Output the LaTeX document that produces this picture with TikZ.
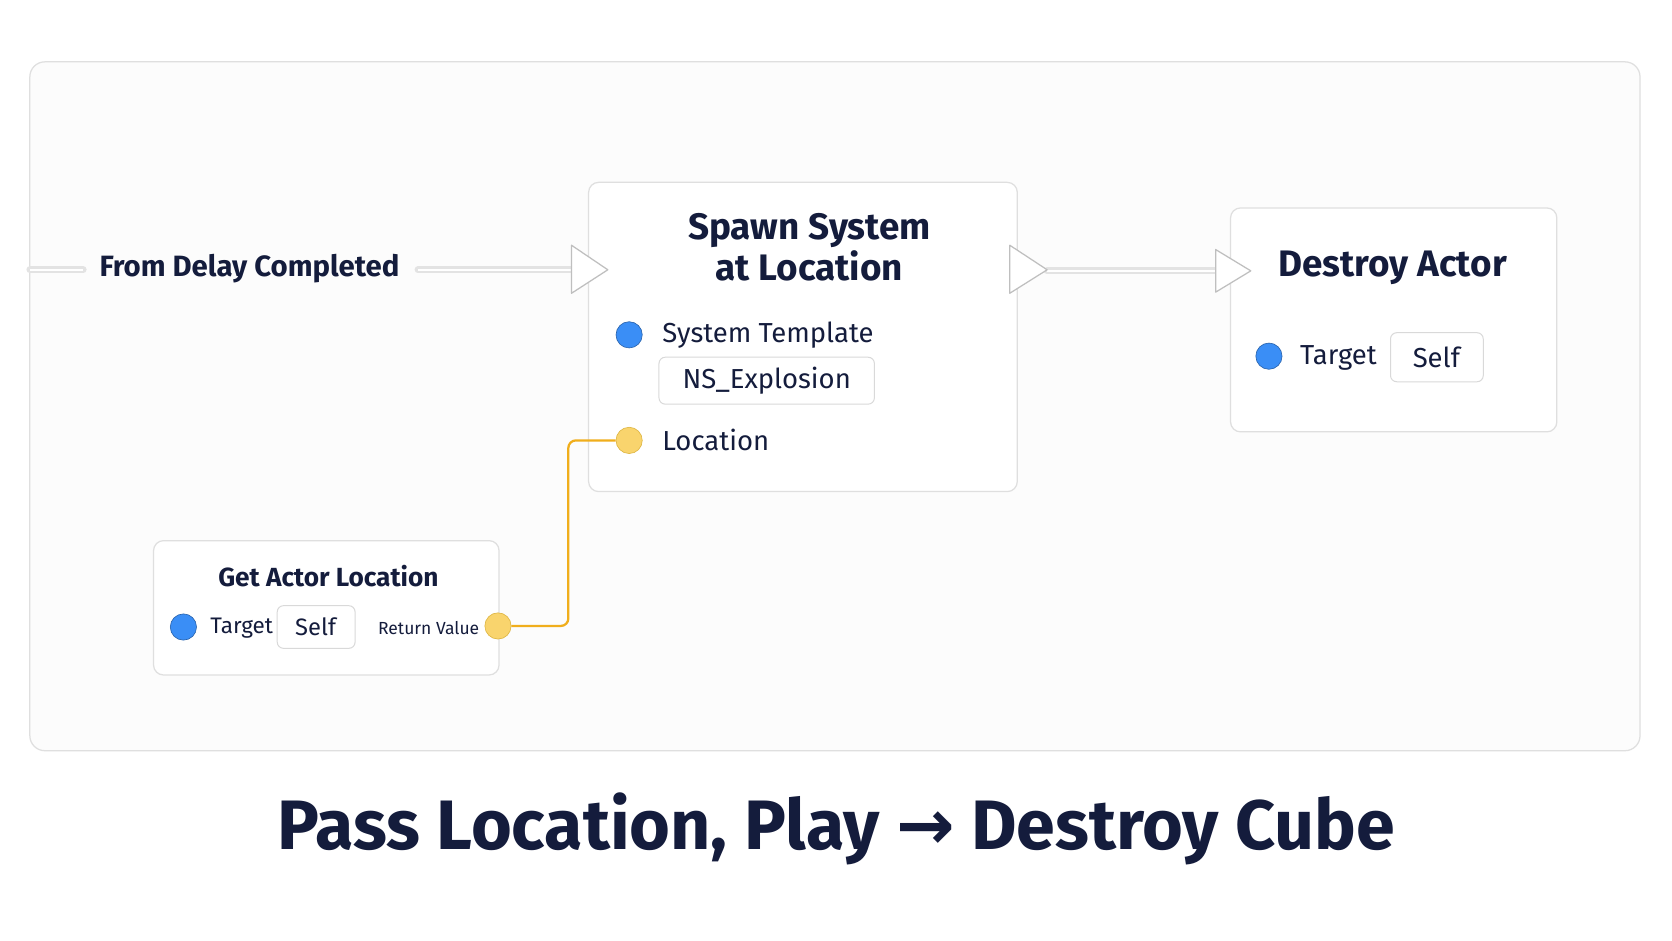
\documentclass[tikz,border=0pt]{standalone}
\usepackage{fontspec}
\setmainfont{Fira Sans}
\newfontfamily\arrowfont{DejaVu Sans}
\begin{document}
\begin{tikzpicture}[x=0.03cm,y=-0.03cm,
  txt/.style={text=navy,inner sep=0pt,font=\fontsize{22}{24}\selectfont},
  card/.style={draw=gray!25,line width=1pt,fill=white,rounded corners=8pt},
  box/.style={draw=gray!30,line width=0.8pt,fill=white,rounded corners=5pt},
  blue pin/.style={circle,minimum size=21pt,inner sep=0pt,fill=pinblue,draw=pinblue!70!black,line width=0.5pt},
  yel pin/.style={circle,minimum size=21pt,inner sep=0pt,fill=pinyel!80,draw=pinyel!90!black,line width=0.5pt},
  exec/.style={draw=gray!50,line width=1pt,fill=white,line join=round},
  wire/.style={line width=5.5pt,draw=gray!22,line cap=round},
  wirein/.style={line width=2pt,draw=white}]
\definecolor{navy}{HTML}{141C3C}
\definecolor{pinblue}{HTML}{3A8EF6}
\definecolor{pinyel}{HTML}{F7C948}
\definecolor{orangewire}{HTML}{F0AE1C}
\useasboundingbox (0,0) rectangle (1568,882);
\fill[white] (0,0) rectangle (1568,882);
\draw[draw=gray!25,line width=1pt,rounded corners=12pt,fill=gray!2] (28,58) rectangle (1538,704);
% nodes
\draw[card] (552,171) rectangle (954,461);
\draw[card] (1154,195) rectangle (1460,405);
\draw[card] (144,507) rectangle (468,633);
% titles
\node[txt,font=\fontsize{29.5}{33}\selectfont\bfseries,align=center] (spawnT) at (759,232) {Spawn System\\at Location};
\node[txt,font=\fontsize{29.5}{33}\selectfont\bfseries] (destT) at (1306,251) {Destroy Actor};
\node[txt,font=\fontsize{21}{24}\selectfont\bfseries] (getT) at (308,540) {Get Actor Location};
\node[txt,font=\fontsize{23.5}{26}\selectfont\bfseries] (from) at (234,252) {From Delay Completed};
% exec wires
\coordinate (w0) at (28,253);
\coordinate (w1) at (78,253);
\coordinate (w2) at (392,253);
\coordinate (w3) at (536,253);
\coordinate (w4) at (982,254);
\coordinate (w5) at (1140,254);
\draw[wire] (w0)--(w1); \draw[wirein] (w0)--(w1);
\draw[wire] (w2)--(w3); \draw[wirein] (w2)--(w3);
\draw[wire] (w4)--(w5); \draw[wirein] (w4)--(w5);
\draw[exec] (536,230)--(570,253)--(536,275)--cycle;
\draw[exec] (947,230)--(982,253)--(947,275)--cycle;
\draw[exec] (1140,234)--(1173,254)--(1140,274)--cycle;
% spawn pins
\node[blue pin] (st) at (590,314) {};
\node[txt,anchor=west] (stL) at (621,314) {System Template};
\draw[box] (618,335) rectangle (820,379);
\node[txt] (ns) at (719,357) {NS\_Explosion};
\node[yel pin] (loc) at (590,413) {};
\node[txt,anchor=west] (locL) at (621,413) {Location};
% destroy pins
\node[blue pin] (dt) at (1190,334) {};
\node[txt,anchor=west] (dtL) at (1219,336) {Target};
\draw[box] (1304,312) rectangle (1391,358);
\node[txt] (dself) at (1347,335) {Self};
% get actor pins
\node[blue pin] (gt) at (172,588) {};
\node[txt,anchor=west,font=\fontsize{18}{20}\selectfont] (gtL) at (197,589) {Target};
\draw[box] (260,568) rectangle (333,608);
\node[txt,font=\fontsize{19}{20}\selectfont] (gself) at (296,588) {Self};
\node[txt,font=\fontsize{14}{16}\selectfont] (rv) at (402,589) {Return Value};
\node[yel pin] (ret) at (467,587) {};
% data wire
\draw[orangewire,line width=1.8pt,rounded corners=6pt] (ret.east)--(533,587)--(533,413)--(loc.west);
% caption
\node[txt,font=\fontsize{56}{60}\selectfont\bfseries] (cap) at (784,777) {Pass Location, Play {\arrowfont\bfseries →} Destroy Cube};
\end{tikzpicture}
\end{document}
